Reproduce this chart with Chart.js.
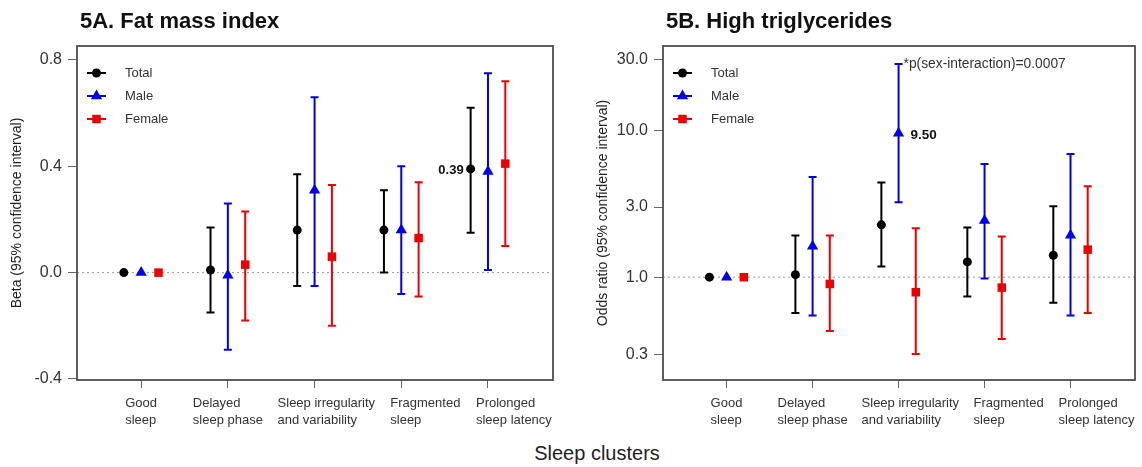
<!DOCTYPE html>
<html>
<head>
<meta charset="utf-8">
<script src="https://cdn.jsdelivr.net/npm/chart.js@4.4.1/dist/chart.umd.min.js"></script>
<style>
    body { margin: 0; background: #fff; width: 1142px; height: 467px; overflow: hidden; font-family: "Liberation Sans", Arial, sans-serif; }
    #fmiChart { position: absolute; left: 0; top: 0; }
    #tgChart { position: absolute; left: 570px; top: 0; }
    #xTitle { position: absolute; left: 497px; width: 200px; top: 442px; text-align: center; font-size: 20px; color: #222; }
</style>
</head>
<body>
<canvas id="fmiChart" width="570" height="440"></canvas>
<canvas id="tgChart" width="572" height="440"></canvas>
<div id="xTitle">Sleep clusters</div>
<script>
const categories = [
    ["Good", "sleep"],
    ["Delayed", "sleep phase"],
    ["Sleep irregularity", "and variability"],
    ["Fragmented", "sleep"],
    ["Prolonged", "sleep latency"]
];
const groups = ["Total", "Male", "Female"];

// 5A. Fat mass index (beta, 95% CI)
const fmiTotal    = [0, 0.01, 0.16, 0.16, 0.39];
const fmiTotalLo  = [null, -0.15, -0.05, 0.00, 0.15];
const fmiTotalHi  = [null, 0.17, 0.37, 0.31, 0.62];
const fmiMale     = [0, -0.01, 0.31, 0.16, 0.38];
const fmiMaleLo   = [null, -0.29, -0.05, -0.08, 0.01];
const fmiMaleHi   = [null, 0.26, 0.66, 0.40, 0.75];
const fmiFemale   = [0, 0.03, 0.06, 0.13, 0.41];
const fmiFemaleLo = [null, -0.18, -0.20, -0.09, 0.10];
const fmiFemaleHi = [null, 0.23, 0.33, 0.34, 0.72];
const fmiTicks = [-0.4, 0.0, 0.4, 0.8];

// 5B. High triglycerides (odds ratio, 95% CI)
const tgTotal    = [1, 1.04, 2.27, 1.27, 1.41];
const tgTotalLo  = [null, 0.57, 1.18, 0.74, 0.67];
const tgTotalHi  = [null, 1.92, 4.40, 2.18, 3.03];
const tgMale     = [1, 1.62, 9.50, 2.43, 1.93];
const tgMaleLo   = [null, 0.55, 3.23, 0.98, 0.55];
const tgMaleHi   = [null, 4.79, 28.1, 5.89, 6.88];
const tgFemale   = [1, 0.90, 0.79, 0.85, 1.54];
const tgFemaleLo = [null, 0.43, 0.30, 0.38, 0.57];
const tgFemaleHi = [null, 1.92, 2.15, 1.89, 4.15];
const tgTicks = [0.3, 1, 3, 10, 30];

const colors = ["#000000", "#0000ee", "#ee0000"];
const shapes = ["circle", "triangle", "rect"];
const sizes = [4.5, 6.5, 6];
const offsets = [-0.2, 0, 0.2];
// category labels start this many px left of their tick (as in the original)
const labelShift = [-16, -35, -37, -11, -12];
const FONT = "'Liberation Sans', Arial, sans-serif";

function buildSets(series) {
    return series.map((s, g) => ({
        label: groups[g],
        data: s.est.map((v, i) => ({ x: i + 1 + offsets[g], y: v, lo: s.lo[i], hi: s.hi[i] })),
        borderColor: colors[g],
        backgroundColor: colors[g],
        pointStyle: shapes[g],
        pointRadius: sizes[g],
        pointBorderWidth: 0,
        showLine: false
    }));
}

function panelPlugin(cfg) {
    return {
        id: "panel",
        beforeDatasetsDraw(chart) {
            const { ctx, chartArea: a, scales: { x, y } } = chart;
            ctx.save();
            // dotted reference line
            const yr = y.getPixelForValue(cfg.ref);
            ctx.strokeStyle = "#999";
            ctx.lineWidth = 1;
            ctx.setLineDash([2, 3]);
            ctx.beginPath();
            ctx.moveTo(a.left, yr);
            ctx.lineTo(a.right, yr);
            ctx.stroke();
            ctx.setLineDash([]);
            // confidence intervals
            chart.data.datasets.forEach(ds => {
                ctx.strokeStyle = ds.borderColor;
                ctx.lineWidth = 2;
                ds.data.forEach(p => {
                    if (p.lo == null) return;
                    const px = x.getPixelForValue(p.x);
                    const t = y.getPixelForValue(p.hi);
                    const b = y.getPixelForValue(p.lo);
                    ctx.beginPath();
                    ctx.moveTo(px, t); ctx.lineTo(px, b);
                    ctx.moveTo(px - 4, t); ctx.lineTo(px + 4, t);
                    ctx.moveTo(px - 4, b); ctx.lineTo(px + 4, b);
                    ctx.stroke();
                });
            });
            ctx.restore();
        },
        afterDraw(chart) {
            const { ctx, chartArea: a } = chart;
            const { x, y } = chart.scales;
            ctx.save();
            // box
            ctx.strokeStyle = "#4d4d4d";
            ctx.lineWidth = 1.8;
            ctx.strokeRect(a.left, a.top, a.right - a.left, a.bottom - a.top);
            // category labels, lines left-aligned
            ctx.font = "13px " + FONT;
            ctx.fillStyle = "#333";
            ctx.textAlign = "left";
            ctx.textBaseline = "middle";
            categories.forEach((lines, i) => {
                const left = x.getPixelForValue(i + 1) + labelShift[i];
                lines.forEach((l, k) => ctx.fillText(l, left, 403 + k * 17));
            });
            // title
            ctx.fillStyle = "#111";
            ctx.font = "bold 22px " + FONT;
            ctx.textBaseline = "alphabetic";
            ctx.fillText(cfg.title, a.left + 3, 28);
            // y axis title
            ctx.save();
            ctx.translate(cfg.yTitleX, (a.top + a.bottom) / 2);
            ctx.rotate(-Math.PI / 2);
            ctx.textAlign = "center";
            ctx.textBaseline = "middle";
            ctx.font = "14px " + FONT;
            ctx.fillStyle = "#222";
            ctx.fillText(cfg.yTitle, 0, 0);
            ctx.restore();
            // legend
            groups.forEach((name, g) => {
                const ly = 73 + g * 23;
                const lx = a.left + 10;
                ctx.strokeStyle = colors[g];
                ctx.fillStyle = colors[g];
                ctx.lineWidth = 2;
                ctx.beginPath();
                ctx.moveTo(lx, ly); ctx.lineTo(lx + 19, ly);
                ctx.stroke();
                Chart.helpers.drawPoint(ctx, { pointStyle: shapes[g], radius: sizes[g], rotation: 0, borderWidth: 0 }, lx + 9.5, ly);
                ctx.fillStyle = "#333";
                ctx.font = "13px " + FONT;
                ctx.textAlign = "left";
                ctx.textBaseline = "middle";
                ctx.fillText(name, a.left + 48, ly);
            });
            // notes
            cfg.notes.forEach(n => {
                ctx.font = (n.bold ? "bold " : "") + n.size + "px " + FONT;
                ctx.fillStyle = n.color;
                ctx.textAlign = n.align;
                ctx.textBaseline = "middle";
                ctx.fillText(n.text, x.getPixelForValue(n.x) + n.dx, y.getPixelForValue(n.y) + n.dy);
            });
            ctx.restore();
        }
    };
}

function makePanel(id, cfg) {
    const ctx = document.getElementById(id).getContext("2d");
    return new Chart(ctx, {
        type: "scatter",
        data: { datasets: buildSets(cfg.series) },
        options: {
            responsive: false,
            animation: false,
            layout: { padding: { top: 46, right: cfg.padRight, left: 0, bottom: 0 } },
            plugins: { legend: { display: false }, tooltip: { enabled: false } },
            scales: {
                x: {
                    type: "linear",
                    min: 0.26,
                    max: 5.75,
                    afterBuildTicks: s => { s.ticks = [1, 2, 3, 4, 5].map(v => ({ value: v })); },
                    afterFit: s => { s.height = 60; },
                    ticks: { display: false },
                    grid: { drawOnChartArea: false, tickLength: 8, color: "#666", lineWidth: 1 },
                    border: { display: false }
                },
                y: {
                    type: cfg.yType,
                    min: cfg.yMin,
                    max: cfg.yMax,
                    afterBuildTicks: s => { s.ticks = cfg.yTicks.map(v => ({ value: v })); },
                    afterFit: s => { s.width = cfg.yWidth; },
                    ticks: {
                        callback: v => Number(v).toFixed(1),
                        font: { family: FONT, size: 16 },
                        color: "#333",
                        padding: 6
                    },
                    grid: { drawOnChartArea: false, tickLength: 9, color: "#666", lineWidth: 1 },
                    border: { display: false }
                }
            }
        },
        plugins: [panelPlugin(cfg)]
    });
}

makePanel("fmiChart", {
    title: "5A. Fat mass index",
    yTitle: "Beta (95% confidence interval)",
    yTitleX: 17,
    yType: "linear",
    yMin: -0.404,
    yMax: 0.8525,
    yTicks: fmiTicks,
    yWidth: 77,
    padRight: 17,
    ref: 0,
    series: [
        { est: fmiTotal, lo: fmiTotalLo, hi: fmiTotalHi },
        { est: fmiMale, lo: fmiMaleLo, hi: fmiMaleHi },
        { est: fmiFemale, lo: fmiFemaleLo, hi: fmiFemaleHi }
    ],
    notes: [
        { text: "0.39", x: 4.8, y: fmiTotal[4], dx: -7, dy: 1, align: "right", bold: true, size: 13, color: "#111" }
    ]
});

makePanel("tgChart", {
    title: "5B. High triglycerides",
    yTitle: "Odds ratio (95% confidence interval)",
    yTitleX: 33,
    yType: "logarithmic",
    yMin: 0.2,
    yMax: 37.3,
    yTicks: tgTicks,
    yWidth: 93,
    padRight: 7,
    ref: 1,
    series: [
        { est: tgTotal, lo: tgTotalLo, hi: tgTotalHi },
        { est: tgMale, lo: tgMaleLo, hi: tgMaleHi },
        { est: tgFemale, lo: tgFemaleLo, hi: tgFemaleHi }
    ],
    notes: [
        { text: "9.50", x: 3, y: tgMale[2], dx: 12, dy: 2, align: "left", bold: true, size: 13.5, color: "#111" },
        { text: "*p(sex-interaction)=0.0007", x: 3, y: tgMaleHi[2], dx: 5, dy: 0, align: "left", bold: false, size: 13.8, color: "#333" }
    ]
});
</script>
</body>
</html>
